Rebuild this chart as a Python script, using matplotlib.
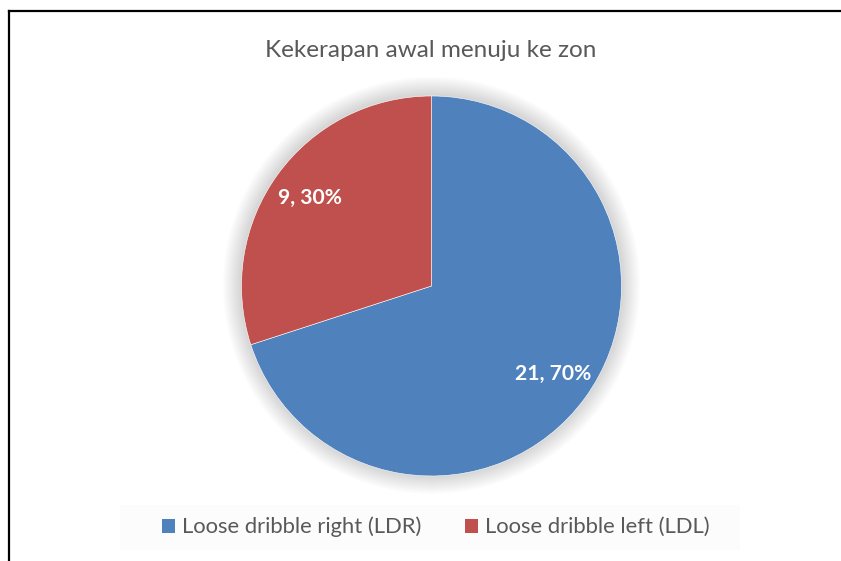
import numpy as np
import matplotlib
matplotlib.use('Agg')
import matplotlib.pyplot as plt
from matplotlib.patches import Rectangle, Circle, Patch
from matplotlib.lines import Line2D

title = 'Kekerapan awal menuju ke zon'
labels = ['Loose dribble right (LDR)', 'Loose dribble left (LDL)']
counts = [21, 9]
colors = ['#4F81BD', '#C0504D']

plt.rcParams['font.family'] = ['Lato', 'DejaVu Sans']
plt.rcParams['hatch.linewidth'] = 1.2
plt.rcParams['hatch.color'] = '#efefef'

W, H = 841, 561
fig = plt.figure(figsize=(W / 100, H / 100), dpi=100)
fig.patch.set_facecolor('white')

# striped chart-area background
bg = fig.add_axes([0, 0, 1, 1])
bg.set_xlim(0, W)
bg.set_ylim(H, 0)
bg.axis('off')
bg.add_patch(Rectangle((10, 10.5), W, H, facecolor='white', edgecolor='none',
                       hatch='\\\\\\\\', zorder=0))
bg.add_line(Line2D([9.5, W + 5], [10.5, 10.5], color='black', lw=1.6))
bg.add_line(Line2D([9.5, 9.5], [10.5, H + 5], color='black', lw=1.6))
# legend panel
bg.add_patch(Rectangle((120, 505), 620, 45, facecolor='#fcfcfc', edgecolor='none', zorder=1))
bg.text(431, 57, title, ha='center', va='baseline', fontsize=17.5, color='#595959')

cx, cy, r = 431.5, 286, 190
ax = fig.add_axes([(cx - r) / W, (H - cy - r) / H, 2 * r / W, 2 * r / H])
ax.axis('off')

# soft shadow
for i in range(14):
    ax.add_patch(Circle((0, 0.004), 1 + 0.007 * (14 - i), facecolor='black',
                        alpha=0.012, edgecolor='none', zorder=0, clip_on=False))

total = sum(counts)
wedges, texts = ax.pie(counts, colors=colors, startangle=90, counterclock=False,
                       radius=1, wedgeprops=dict(edgecolor='white', linewidth=0.4))
for w, c in zip(wedges, counts):
    ang = np.deg2rad((w.theta1 + w.theta2) / 2)
    ax.text(0.79 * np.cos(ang), 0.79 * np.sin(ang), f'{c}, {c / total:.0%}',
            ha='center', va='center', fontsize=15.2, fontweight='bold', color='white')
ax.set_xlim(-1, 1)
ax.set_ylim(-1, 1)

handles = [Patch(facecolor=c, edgecolor='none') for c in colors]
fig.legend(handles, labels, loc='center', bbox_to_anchor=(435.5 / W, 1 - 527 / H),
           ncol=2, frameon=False, fontsize=15.8, labelcolor='#595959',
           handlelength=0.6, handleheight=0.6, handletextpad=0.3, columnspacing=2.0)

fig.savefig('out.png', dpi=100)
